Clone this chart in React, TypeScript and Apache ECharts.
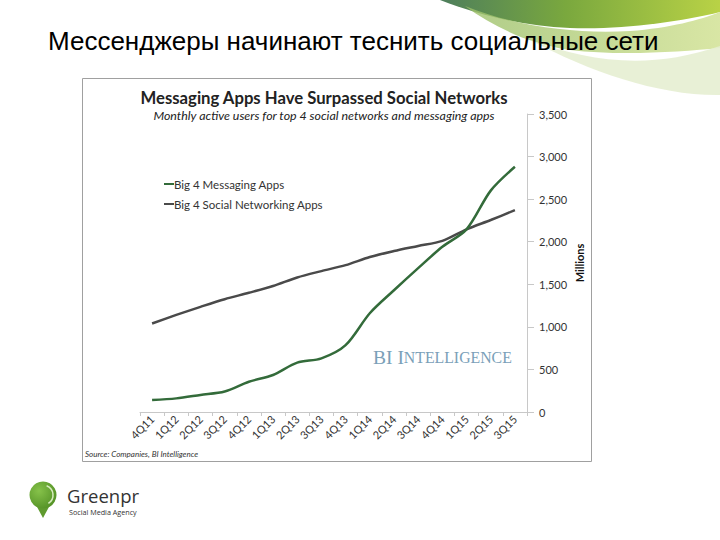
import React, { useEffect, useRef } from "react";
import * as echarts from "echarts";

const categories = ["4Q11","1Q12","2Q12","3Q12","4Q12","1Q13","2Q13","3Q13","4Q13","1Q14","2Q14","3Q14","4Q14","1Q15","2Q15","3Q15"];
const messagingApps = [140, 160, 200, 240, 355, 435, 580, 630, 785, 1160, 1430, 1690, 1940, 2145, 2600, 2880];
const socialApps = [1040, 1140, 1235, 1325, 1400, 1480, 1580, 1655, 1725, 1820, 1890, 1950, 2010, 2145, 2255, 2370];
const yTicks = [0, 500, 1000, 1500, 2000, 2500, 3000, 3500];

const SLIDE_TITLE = "Мессенджеры начинают теснить социальные сети";
const CHART_TITLE = "Messaging Apps Have Surpassed Social Networks";
const CHART_SUB = "Monthly active users for top 4 social networks and messaging apps";
const SOURCE = "Source: Companies, BI Intelligence";

let registered = false;
function registerShapes() {
  if (registered) return;
  registered = true;
  echarts.graphic.registerShape("swA", echarts.graphic.extendPath("M440,0 L720,0 L720,12 C680,22 620,30 570,28 C520,26 480,15 440,0 Z", {}) as any);
  echarts.graphic.registerShape("swB", echarts.graphic.extendPath("M465,6 C520,28 580,34 630,31 C670,28 700,20 720,12 L720,48 C680,52 620,56 570,50 C530,44 495,28 465,6 Z", {}) as any);
  echarts.graphic.registerShape("swC", echarts.graphic.extendPath("M530,40 C590,62 650,70 720,46 L720,95 C660,96 590,72 530,40 Z", {}) as any);
  echarts.graphic.registerShape("pin", echarts.graphic.extendPath("M36,505 L43,518 L50,505 Z", {}) as any);
}

export default function App() {
  const ref = useRef<HTMLDivElement>(null);
  useEffect(() => {
    document.body.style.margin = "0";
    registerShapes();
    const chart = echarts.init(ref.current!, null, { renderer: "svg" });
    const font = "Lato";
    chart.setOption({
      animation: false,
      backgroundColor: "#ffffff",
      grid: { left: 140, right: 193, top: 114, bottom: 128, containLabel: false },
      legend: {
        left: 164, top: 178, orient: "vertical", itemGap: 8, padding: 0,
        itemWidth: 10, itemHeight: 2,
        textStyle: { fontFamily: font, fontSize: 11.5, color: "#333", padding: [0, 0, 0, -5] },
        data: [
          { name: "Big 4 Messaging Apps", icon: "rect" },
          { name: "Big 4 Social Networking Apps", icon: "rect" },
        ],
      },
      xAxis: {
        type: "category", data: categories, boundaryGap: true,
        axisLine: { lineStyle: { color: "#c8c8c8" } },
        axisTick: { show: true, length: 4, lineStyle: { color: "#c8c8c8" } },
        axisLabel: { rotate: 45, fontFamily: font, fontSize: 11, color: "#333", margin: 5, interval: 0 },
      },
      yAxis: {
        type: "value", position: "right", min: 0, max: 3500, interval: 500,
        name: "Millions", nameLocation: "middle", nameRotate: 90, nameGap: 47, nameMoveOverlap: false,
        nameTextStyle: { fontFamily: font, fontSize: 11, fontWeight: "bold", color: "#111" },
        axisLine: { show: true, lineStyle: { color: "#c8c8c8" } },
        axisTick: { show: true, length: 7, lineStyle: { color: "#c8c8c8" } },
        splitLine: { show: false },
        axisLabel: {
          fontFamily: font, fontSize: 11, color: "#333", margin: 12,
          formatter: (v: number) => (yTicks.includes(v) ? v.toLocaleString("en-US") : ""),
        },
      },
      series: [
        {
          name: "Big 4 Messaging Apps", type: "line", data: messagingApps, smooth: 0.3,
          symbol: "none", lineStyle: { color: "#336b3a", width: 2.5 }, itemStyle: { color: "#336b3a" }, z: 3,
        },
        {
          name: "Big 4 Social Networking Apps", type: "line", data: socialApps, smooth: 0.3,
          symbol: "none", lineStyle: { color: "#4a4a4a", width: 2.5 }, itemStyle: { color: "#4a4a4a" }, z: 2,
        },
      ],
      graphic: [
        {
          type: "swA", x: 0, y: 0, silent: true,
          style: { fill: new echarts.graphic.LinearGradient(0, 0, 1, 0, [
            { offset: 0, color: "#4d7e5c" }, { offset: 0.45, color: "#7aa83e" }, { offset: 1, color: "#b9d246" },
          ]) },
        },
        {
          type: "swB", x: 0, y: 0, silent: true,
          style: { fill: new echarts.graphic.LinearGradient(0, 0, 1, 0, [
            { offset: 0, color: "#9cc06a" }, { offset: 1, color: "#cfe08e" },
          ]), opacity: 0.8 },
        },
        {
          type: "swC", x: 0, y: 0, silent: true,
          style: { fill: "#e6eed2", opacity: 0.9 },
        },
        {
          type: "text", left: 48, top: 28, silent: true,
          style: { text: SLIDE_TITLE, fontFamily: "Liberation Sans", fontSize: 26, fill: "#000" },
        },
        {
          type: "rect", silent: true, shape: { x: 82.5, y: 78.5, width: 509, height: 383 },
          style: { fill: "none", stroke: "#a0a0a0", lineWidth: 1 },
        },
        {
          type: "text", x: 324, y: 98, silent: true,
          style: { text: CHART_TITLE, fontFamily: font, fontWeight: "bold", fontSize: 16.7, fill: "#222", align: "center", verticalAlign: "middle" },
        },
        {
          type: "text", x: 324, y: 115, silent: true,
          style: { text: CHART_SUB, fontFamily: font, fontStyle: "italic", fontSize: 12.4, fill: "#222", align: "center", verticalAlign: "middle" },
        },
        {
          type: "text", x: 373, y: 357, silent: true,
          style: {
            text: "{a|BI I}{b|NTELLIGENCE}", verticalAlign: "middle",
            rich: {
              a: { fontFamily: "Liberation Serif", fontSize: 19.5, fill: "#7aa0b8", color: "#7aa0b8" },
              b: { fontFamily: "Liberation Serif", fontSize: 15.8, fill: "#7aa0b8", color: "#7aa0b8" },
            },
          },
        },
        {
          type: "text", x: 85, y: 454, silent: true,
          style: { text: SOURCE, fontFamily: font, fontStyle: "italic", fontSize: 8, fill: "#333", verticalAlign: "middle" },
        },
        { type: "pin", x: 0, y: 0, silent: true, style: { fill: "#5f9a2e" } },
        {
          type: "circle", silent: true, shape: { cx: 43, cy: 495, r: 13.5 },
          style: { fill: new echarts.graphic.RadialGradient(0.35, 0.35, 0.8, [
            { offset: 0, color: "#86c24a" }, { offset: 1, color: "#4e8c22" },
          ]) },
        },
        {
          type: "arc", silent: true, shape: { cx: 43, cy: 495, r: 10, startAngle: -1.2, endAngle: 1.0 },
          style: { stroke: "#d8ecc0", lineWidth: 1.5, fill: "none" },
        },
        {
          type: "text", x: 67, y: 495.5, silent: true,
          style: { text: "Greenpr", fontFamily: "Open Sans", fontSize: 18.5, lineHeight: 19, fill: "#333", verticalAlign: "middle" },
        },
        {
          type: "text", x: 69, y: 512, silent: true,
          style: { text: "Social Media Agency", fontFamily: "Open Sans", fontSize: 7.2, lineHeight: 8, fill: "#333", verticalAlign: "middle" },
        },
      ],
    });
    return () => chart.dispose();
  }, []);
  return <div ref={ref} style={{ position: "absolute", left: 0, top: 0, width: 720, height: 540 }} />;
}
